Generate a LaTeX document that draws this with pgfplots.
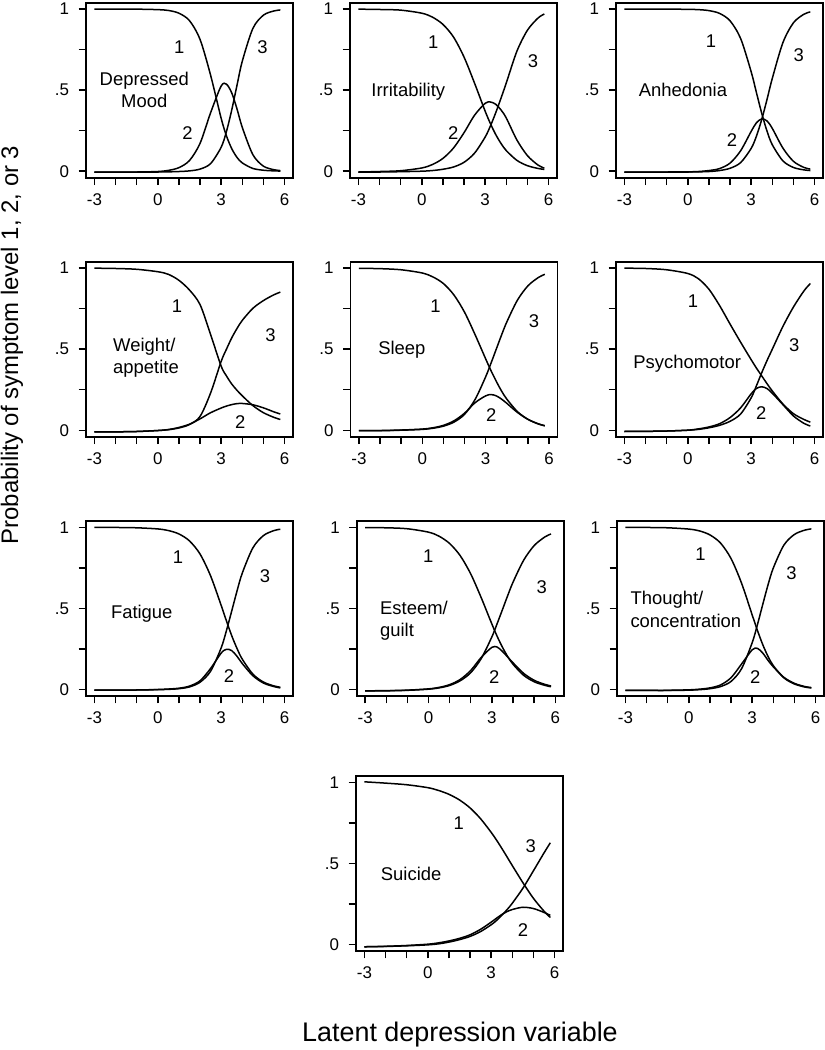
\documentclass[border=0pt]{standalone}
\usepackage{fontspec}
\setmainfont{Liberation Sans}
\usepackage{pgfplots}
\pgfplotsset{compat=1.18}
\tikzset{
  lab/.style={font=\fontsize{18.5}{22.5}\selectfont, align=center, inner sep=0pt},
  labl/.style={font=\fontsize{18.5}{22.5}\selectfont, align=left, anchor=west, inner sep=0pt},
  num/.style={font=\fontsize{18.5}{22}\selectfont, inner sep=0pt},
  curve/.style={black, line width=1.5bp, smooth, mark=none},
}
\pgfplotsset{
  panel/.style={
    width=207bp, height=175bp, scale only axis, anchor=south west,
    xmin=-3.4, xmax=6.4, ymin=-0.04, ymax=1.04,
    xtick={-3,0,3,6}, xticklabels={{-3},{0},{3},{6}},
    minor xtick={-2,-1,1,2,4,5},
    ytick={0,0.5,1}, yticklabels={0,.5,1},
    minor ytick={0.25,0.75},
    tick pos=left, tick align=outside,
    major tick length=7.5bp, minor tick length=7.5bp,
    every tick/.style={black, line width=1.4bp},
    every minor tick/.style={black, line width=1.4bp},
    axis line style={line width=1.8bp},
    tick label style={font=\fontsize{17}{20}\selectfont},
    xticklabel style={yshift=-5bp},
    yticklabel style={xshift=-6bp},
  }
}
\begin{document}
\begin{tikzpicture}[x=1bp,y=1bp]
\useasboundingbox (0,0) rectangle (825,1050);

% ---------- Row 1 ----------
\begin{axis}[panel, at={(86bp,872.3bp)}]
\addplot[curve] coordinates {(-3,1) (-2,1) (-1,1) (0,0.997) (0.5,0.992) (1,0.975) (1.5,0.929) (2,0.813) (2.5,0.592) (3,0.326) (3.25,0.218) (3.5,0.139) (3.75,0.085) (4,0.051) (4.5,0.017) (5,0.006) (5.5,0.002) (5.8,0.001)};
\addplot[curve] coordinates {(-3,-0.006) (-2,-0.006) (-1,-0.005) (0,-0.002) (0.5,0.005) (1,0.022) (1.5,0.066) (2,0.172) (2.5,0.361) (3,0.526) (3.25,0.537) (3.5,0.483) (3.75,0.384) (4,0.270) (4.5,0.102) (5,0.031) (5.5,0.009) (5.8,0.004)};
\addplot[curve] coordinates {(-3,-0.006) (-2,-0.006) (-1,-0.006) (0,-0.005) (0.5,-0.004) (1,-0.002) (1.5,0.002) (2,0.013) (2.5,0.047) (3,0.148) (3.25,0.245) (3.5,0.378) (3.75,0.531) (4,0.679) (4.5,0.881) (5,0.963) (5.5,0.989) (5.8,0.995)};
\node[lab] at (axis cs:-0.64,0.5) {Depressed\\Mood};
\node[num] at (axis cs:1.02,0.767) {1};
\node[num] at (axis cs:1.41,0.236) {2};
\node[num] at (axis cs:4.96,0.767) {3};
\end{axis}

\begin{axis}[panel, at={(350bp,872.3bp)}]
\addplot[curve] coordinates {(-3,1) (-2,0.998) (-1,0.994) (0,0.975) (0.5,0.951) (1,0.906) (1.5,0.828) (2,0.704) (2.5,0.542) (3,0.370) (3.25,0.293) (3.5,0.226) (3.75,0.171) (4,0.127) (4.5,0.067) (5,0.034) (5.5,0.017) (5.8,0.011)};
\addplot[curve] coordinates {(-3,-0.005) (-2,-0.002) (-1,0.003) (0,0.02) (0.5,0.041) (1,0.079) (1.5,0.143) (2,0.238) (2.5,0.346) (3,0.419) (3.25,0.427) (3.5,0.413) (3.75,0.378) (4,0.328) (4.5,0.193) (5,0.096) (5.5,0.038) (5.8,0.019)};
\addplot[curve] coordinates {(-3,-0.005) (-2,-0.005) (-1,-0.003) (0,0) (0.5,0.004) (1,0.012) (1.5,0.026) (2,0.055) (2.5,0.112) (3,0.211) (3.25,0.280) (3.5,0.361) (3.75,0.451) (4,0.545) (4.5,0.74) (5,0.87) (5.5,0.945) (5.8,0.97)};
\node[lab] at (axis cs:-0.64,0.49) {Irritability};
\node[num] at (axis cs:0.54,0.797) {1};
\node[num] at (axis cs:1.49,0.238) {2};
\node[num] at (axis cs:5.26,0.68) {3};
\end{axis}

\begin{axis}[panel, at={(616bp,872.3bp)}]
\addplot[curve] coordinates {(-3,1) (-2,1) (-1,1) (0,0.999) (0.5,0.997) (1,0.991) (1.5,0.974) (2,0.928) (2.5,0.819) (3,0.613) (3.25,0.484) (3.5,0.357) (3.75,0.247) (4,0.163) (4.5,0.064) (5,0.023) (5.5,0.008) (5.8,0.004)};
\addplot[curve] coordinates {(-3,-0.006) (-2,-0.006) (-1,-0.005) (0,-0.004) (0.5,-0.002) (1,0.004) (1.5,0.016) (2,0.05) (2.5,0.126) (3,0.246) (3.25,0.299) (3.5,0.323) (3.75,0.310) (4,0.264) (4.5,0.143) (5,0.061) (5.5,0.023) (5.8,0.013)};
\addplot[curve] coordinates {(-3,-0.006) (-2,-0.006) (-1,-0.006) (0,-0.005) (0.5,-0.004) (1,-0.002) (1.5,0.004) (2,0.018) (2.5,0.053) (3,0.141) (3.25,0.217) (3.5,0.320) (3.75,0.443) (4,0.573) (4.5,0.793) (5,0.916) (5.5,0.969) (5.8,0.983)};
\node[lab] at (axis cs:-0.23,0.50) {Anhedonia};
\node[num] at (axis cs:1.10,0.80) {1};
\node[num] at (axis cs:2.09,0.194) {2};
\node[num] at (axis cs:5.25,0.714) {3};
\end{axis}

% ---------- Row 2 ----------
\begin{axis}[panel, at={(86bp,613.3bp)}]
\addplot[curve] coordinates {(-3,1) (-2,0.998) (-1,0.993) (0,0.978) (0.5,0.962) (1,0.925) (1.5,0.865) (2,0.775) (2.5,0.59) (3,0.395) (3.25,0.335) (3.5,0.285) (3.75,0.246) (4,0.212) (4.5,0.152) (5,0.108) (5.5,0.079) (5.8,0.066)};
\addplot[curve] coordinates {(-3,-0.01) (-2,-0.01) (-1,-0.008) (0,-0.002) (0.5,0.004) (1,0.017) (1.5,0.037) (2,0.07) (2.5,0.108) (3,0.137) (3.25,0.149) (3.5,0.158) (3.75,0.164) (4,0.165) (4.5,0.157) (5,0.138) (5.5,0.113) (5.8,0.10)};
\addplot[curve] coordinates {(-3,-0.01) (-2,-0.01) (-1,-0.008) (0,-0.002) (0.5,0.003) (1,0.014) (1.5,0.035) (2,0.085) (2.5,0.23) (3,0.425) (3.25,0.50) (3.5,0.57) (3.75,0.628) (4,0.678) (4.5,0.752) (5,0.80) (5.5,0.836) (5.8,0.852)};
\node[labl] at (axis cs:-2.12,0.447) {Weight/\\appetite};
\node[num] at (axis cs:0.91,0.763) {1};
\node[num] at (axis cs:3.90,0.052) {2};
\node[num] at (axis cs:5.33,0.586) {3};
\end{axis}

\begin{axis}[panel, at={(350.5bp,613.3bp)}]
\addplot[curve] coordinates {(-3,0.999) (-2,0.997) (-1,0.990) (0,0.970) (0.5,0.946) (1,0.905) (1.5,0.834) (2,0.728) (2.5,0.589) (3,0.440) (3.25,0.368) (3.5,0.302) (3.75,0.242) (4,0.192) (4.5,0.115) (5,0.067) (5.5,0.038) (5.8,0.027)};
\addplot[curve] coordinates {(-3,-0.003) (-2,-0.002) (-1,0.001) (0,0.007) (0.5,0.015) (1,0.03) (1.5,0.058) (2,0.105) (2.5,0.17) (3,0.212) (3.25,0.22) (3.5,0.212) (3.75,0.192) (4,0.166) (4.5,0.11) (5,0.067) (5.5,0.039) (5.8,0.028)};
\addplot[curve] coordinates {(-3,-0.003) (-2,-0.003) (-1,0) (0,0.005) (0.5,0.012) (1,0.025) (1.5,0.05) (2,0.098) (2.5,0.19) (3,0.33) (3.25,0.413) (3.5,0.5) (3.75,0.587) (4,0.668) (4.5,0.802) (5,0.891) (5.5,0.943) (5.8,0.962)};
\node[lab] at (axis cs:-0.97,0.498) {Sleep};
\node[num] at (axis cs:0.62,0.768) {1};
\node[num] at (axis cs:3.26,0.092) {2};
\node[num] at (axis cs:5.29,0.672) {3};
\end{axis}

\begin{axis}[panel, at={(616bp,613.3bp)}]
\addplot[curve] coordinates {(-3,1) (-2,0.998) (-1,0.99) (0,0.967) (0.5,0.935) (1,0.87) (1.5,0.77) (2,0.655) (2.5,0.543) (3,0.435) (3.25,0.383) (3.5,0.335) (3.75,0.287) (4,0.242) (4.5,0.162) (5,0.102) (5.5,0.066) (5.8,0.05)};
\addplot[curve] coordinates {(-3,-0.008) (-2,-0.007) (-1,-0.005) (0,0) (0.5,0.008) (1,0.02) (1.5,0.04) (2,0.078) (2.5,0.138) (3,0.225) (3.25,0.258) (3.5,0.268) (3.75,0.257) (4,0.228) (4.5,0.158) (5,0.088) (5.5,0.042) (5.8,0.026)};
\addplot[curve] coordinates {(-3,-0.008) (-2,-0.007) (-1,-0.005) (0,0) (0.5,0.005) (1,0.015) (1.5,0.03) (2,0.055) (2.5,0.10) (3,0.20) (3.25,0.275) (3.5,0.355) (3.75,0.43) (4,0.50) (4.5,0.64) (5,0.76) (5.5,0.86) (5.8,0.905)};
\node[lab] at (axis cs:-0.03,0.41) {Psychomotor};
\node[num] at (axis cs:0.24,0.794) {1};
\node[num] at (axis cs:3.48,0.107) {2};
\node[num] at (axis cs:5.04,0.526) {3};
\end{axis}

% ---------- Row 3 ----------
\begin{axis}[panel, at={(86bp,354bp)}]
\addplot[curve] coordinates {(-3,1) (-2,1) (-1,0.998) (0,0.991) (0.5,0.981) (1,0.960) (1.5,0.917) (2,0.836) (2.5,0.701) (3,0.519) (3.25,0.423) (3.5,0.332) (3.75,0.253) (4,0.187) (4.5,0.095) (5,0.046) (5.5,0.022) (5.8,0.014)};
\addplot[curve] coordinates {(-3,-0.004) (-2,-0.004) (-1,-0.003) (0,0) (0.5,0.003) (1,0.008) (1.5,0.021) (2,0.054) (2.5,0.13) (3,0.225) (3.25,0.248) (3.5,0.24) (3.75,0.205) (4,0.16) (4.5,0.085) (5,0.04) (5.5,0.018) (5.8,0.01)};
\addplot[curve] coordinates {(-3,-0.004) (-2,-0.004) (-1,-0.003) (0,-0.001) (0.5,0.001) (1,0.005) (1.5,0.016) (2,0.045) (2.5,0.113) (3,0.257) (3.25,0.364) (3.5,0.485) (3.75,0.608) (4,0.719) (4.5,0.874) (5,0.950) (5.5,0.981) (5.8,0.989)};
\node[lab] at (axis cs:-0.76,0.47) {Fatigue};
\node[num] at (axis cs:0.96,0.815) {1};
\node[num] at (axis cs:3.37,0.086) {2};
\node[num] at (axis cs:5.08,0.70) {3};
\end{axis}

\begin{axis}[panel, at={(356.7bp,354bp)}]
\addplot[curve] coordinates {(-3,0.999) (-2,0.998) (-1,0.992) (0,0.971) (0.5,0.946) (1,0.901) (1.5,0.826) (2,0.713) (2.5,0.565) (3,0.404) (3.25,0.328) (3.5,0.261) (3.75,0.203) (4,0.156) (4.5,0.088) (5,0.048) (5.5,0.026) (5.8,0.017)};
\addplot[curve] coordinates {(-3,-0.008) (-2,-0.007) (-1,-0.004) (0,0.004) (0.5,0.013) (1,0.03) (1.5,0.062) (2,0.118) (2.5,0.199) (3,0.26) (3.25,0.262) (3.5,0.235) (3.75,0.2) (4,0.165) (4.5,0.1) (5,0.057) (5.5,0.032) (5.8,0.022)};
\addplot[curve] coordinates {(-3,-0.008) (-2,-0.008) (-1,-0.005) (0,0.002) (0.5,0.01) (1,0.025) (1.5,0.054) (2,0.104) (2.5,0.192) (3,0.325) (3.25,0.407) (3.5,0.493) (3.75,0.580) (4,0.662) (4.5,0.797) (5,0.888) (5.5,0.941) (5.8,0.960)};
\node[labl] at (axis cs:-2.30,0.425) {Esteem/\\guilt};
\node[num] at (axis cs:-0.01,0.82) {1};
\node[num] at (axis cs:3.11,0.076) {2};
\node[num] at (axis cs:5.36,0.63) {3};
\end{axis}

\begin{axis}[panel, at={(617bp,354bp)}]
\addplot[curve] coordinates {(-3,1) (-2,1) (-1,0.998) (0,0.990) (0.5,0.979) (1,0.954) (1.5,0.904) (2,0.808) (2.5,0.655) (3,0.460) (3.25,0.364) (3.5,0.277) (3.75,0.204) (4,0.147) (4.5,0.072) (5,0.034) (5.5,0.015) (5.8,0.010)};
\addplot[curve] coordinates {(-3,-0.006) (-2,-0.006) (-1,-0.005) (0,-0.002) (0.5,0.002) (1,0.01) (1.5,0.028) (2,0.073) (2.5,0.158) (3,0.245) (3.25,0.254) (3.5,0.225) (3.75,0.18) (4,0.14) (4.5,0.075) (5,0.038) (5.5,0.018) (5.8,0.012)};
\addplot[curve] coordinates {(-3,-0.006) (-2,-0.006) (-1,-0.006) (0,-0.004) (0.5,-0.001) (1,0.005) (1.5,0.018) (2,0.05) (2.5,0.129) (3,0.289) (3.25,0.401) (3.5,0.525) (3.75,0.646) (4,0.750) (4.5,0.891) (5,0.957) (5.5,0.984) (5.8,0.991)};
\node[labl] at (axis cs:-2.77,0.495) {Thought/\\concentration};
\node[num] at (axis cs:0.55,0.834) {1};
\node[num] at (axis cs:3.15,0.079) {2};
\node[num] at (axis cs:4.86,0.72) {3};
\end{axis}

% ---------- Row 4 ----------
\begin{axis}[panel, at={(356bp,99bp)}]
\addplot[curve] coordinates {(-3,1.004) (-2,0.996) (-1,0.986) (0,0.968) (0.5,0.951) (1,0.927) (1.5,0.892) (2,0.843) (2.5,0.776) (3,0.692) (3.25,0.645) (3.5,0.594) (3.75,0.541) (4,0.487) (4.5,0.382) (5,0.285) (5.5,0.206) (5.8,0.167)};
\addplot[curve] coordinates {(-3,-0.014) (-2,-0.011) (-1,-0.006) (0,0.002) (0.5,0.01) (1,0.022) (1.5,0.038) (2,0.06) (2.5,0.094) (3,0.138) (3.25,0.162) (3.5,0.185) (3.75,0.203) (4,0.216) (4.5,0.23) (5,0.222) (5.5,0.198) (5.8,0.18)};
\addplot[curve] coordinates {(-3,-0.014) (-2,-0.012) (-1,-0.008) (0,-0.002) (0.5,0.004) (1,0.015) (1.5,0.03) (2,0.05) (2.5,0.08) (3,0.122) (3.25,0.148) (3.5,0.18) (3.75,0.215) (4,0.255) (4.5,0.347) (5,0.455) (5.5,0.565) (5.8,0.628)};
\node[lab] at (axis cs:-0.79,0.436) {Suicide};
\node[num] at (axis cs:1.47,0.751) {1};
\node[num] at (axis cs:4.51,0.091) {2};
\node[num] at (axis cs:4.87,0.61) {3};
\end{axis}

% ---------- Outer labels ----------
\node[rotate=90, anchor=base, font=\fontsize{24}{28}\selectfont, inner sep=0pt] at (18,705) {Probability of symptom level 1, 2, or 3};
\node[anchor=base, font=\fontsize{27}{32}\selectfont, inner sep=0pt] at (460,8) {Latent depression variable};
\end{tikzpicture}
\end{document}
